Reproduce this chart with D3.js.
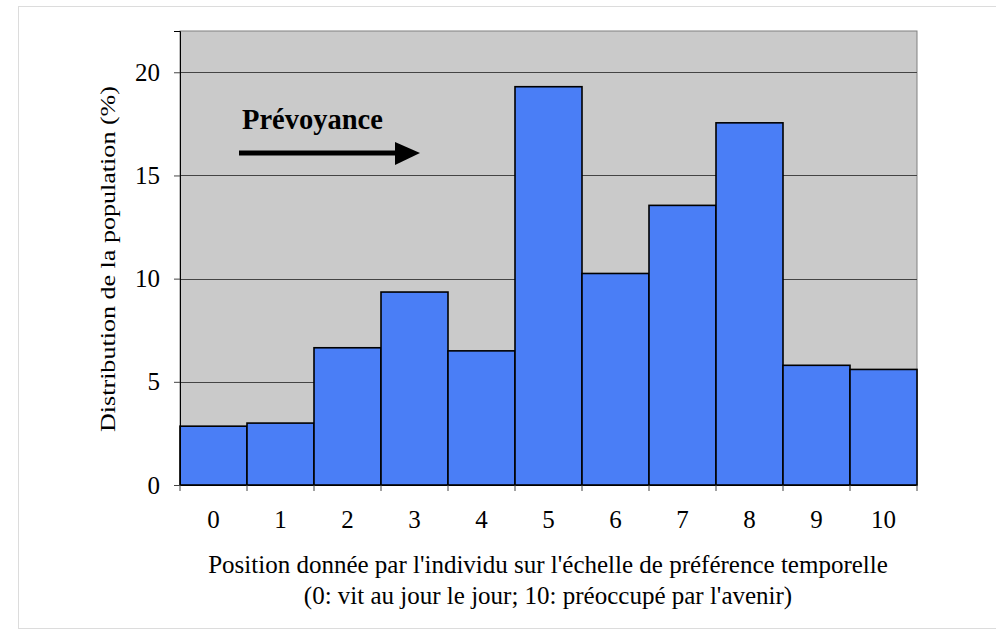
<!DOCTYPE html>
<html><head><meta charset="utf-8">
<script src="https://cdn.jsdelivr.net/npm/d3@7"></script>
<style>body{margin:0;background:#fff}svg{display:block}
svg text{font-family:"Liberation Serif","Times New Roman",Times,"DejaVu Serif",serif;}</style>
</head><body>
<script>
const categories = ["0","1","2","3","4","5","6","7","8","9","10"];
const values = [2.85, 3.0, 6.65, 9.35, 6.5, 19.3, 10.25, 13.55, 17.55, 5.8, 5.6];
const yTicks = [0, 5, 10, 15, 20];
const yLabel = "Distribution de la population (%)";
const xLabel1 = "Position donnée par l'individu sur l'échelle de préférence temporelle";
const xLabel2 = "(0: vit au jour le jour; 10: préoccupé par l'avenir)";
const annotation = "Prévoyance";

const W = 996, H = 634;
const m = {left: 180, top: 31, right: 917, bottom: 485};
const FS = 25;
const svg = d3.select("body").append("svg").attr("width", W).attr("height", H);

svg.append("rect").attr("x", 18.5).attr("y", 6.5).attr("width", 990).attr("height", 622)
  .attr("fill", "#fff").attr("stroke", "#dcdcdc");

const x = d3.scaleBand().domain(categories).range([m.left, m.right]).padding(0);
const y = d3.scaleLinear().domain([0, 22]).range([m.bottom, m.top]);

svg.append("rect").attr("x", m.left).attr("y", m.top).attr("width", m.right - m.left)
  .attr("height", m.bottom - m.top).attr("fill", "#cacaca").attr("stroke", "#808080");

svg.append("g").selectAll("line").data(yTicks.filter(d => d > 0)).join("line")
  .attr("x1", m.left).attr("x2", m.right)
  .attr("y1", d => Math.round(y(d)) + 0.5).attr("y2", d => Math.round(y(d)) + 0.5)
  .attr("stroke", "#444").attr("stroke-width", 1);

svg.append("g").selectAll("rect").data(values).join("rect")
  .attr("x", (d, i) => x(categories[i]))
  .attr("y", d => y(d))
  .attr("width", x.bandwidth())
  .attr("height", d => y(0) - y(d))
  .attr("fill", "#4a7ef6").attr("stroke", "#000").attr("stroke-width", 1.6);

// y axis
const yAxis = svg.append("g").attr("transform", `translate(${m.left},0)`)
  .call(d3.axisLeft(y).tickValues(yTicks).tickSize(6).tickPadding(14));
yAxis.attr("font-family", null);
yAxis.select(".domain").attr("stroke", "#000");
yAxis.selectAll(".tick line").attr("stroke", "#444");
yAxis.selectAll("text").attr("font-size", FS).attr("fill", "#000");

// x axis: ticks at band boundaries
const bounds = categories.map(c => x(c)).concat([m.right]);
const xg = svg.append("g");
xg.append("line").attr("x1", m.left).attr("x2", m.right).attr("y1", m.bottom + 0.5).attr("y2", m.bottom + 0.5).attr("stroke", "#000");
xg.selectAll("line.t").data(bounds).join("line").attr("class", "t")
  .attr("x1", d => d).attr("x2", d => d).attr("y1", m.bottom).attr("y2", m.bottom + 6).attr("stroke", "#444");
xg.selectAll("text").data(categories).join("text")
  .attr("x", d => x(d) + x.bandwidth() / 2).attr("y", 528)
  .attr("text-anchor", "middle").attr("font-size", FS).text(d => d);

svg.append("text").attr("x", 548).attr("y", 573).attr("text-anchor", "middle")
  .attr("font-size", FS).text(xLabel1);
svg.append("text").attr("x", 548).attr("y", 604).attr("text-anchor", "middle")
  .attr("font-size", FS).text(xLabel2);

svg.append("text").attr("transform", "translate(115,259) rotate(-90)").attr("text-anchor", "middle")
  .attr("font-size", 22).attr("textLength", 346).attr("lengthAdjust", "spacingAndGlyphs").text(yLabel);

// annotation
svg.append("text").attr("x", 242).attr("y", 129)
  .attr("font-weight", "bold").attr("font-size", 28.5).text(annotation);
svg.append("line").attr("x1", 239).attr("x2", 398).attr("y1", 153).attr("y2", 153)
  .attr("stroke", "#000").attr("stroke-width", 5);
svg.append("path").attr("d", "M395,142 L420,153 L395,165 Z").attr("fill", "#000");
</script>
</body></html>
